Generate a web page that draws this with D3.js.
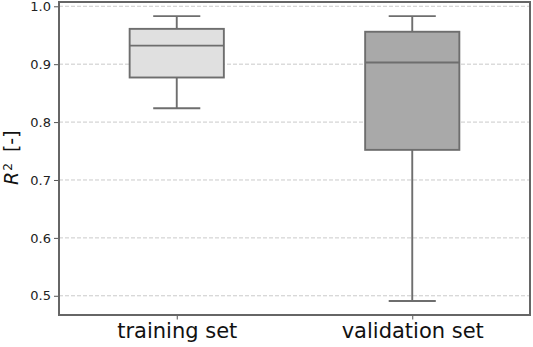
<!DOCTYPE html>
<html>
<head>
<meta charset="utf-8">
<script src="https://cdn.jsdelivr.net/npm/d3@7"></script>
<style>
  body { margin: 0; background: #fff; }
  svg { display: block; font-family: "DejaVu Sans", sans-serif; }
</style>
</head>
<body>
<svg id="chart" width="533" height="347"></svg>
<script>
// box plot stats
const categories = ["training set", "validation set"];
const whiskerLow = [0.824, 0.491];
const q1 = [0.877, 0.752];
const median = [0.932, 0.903];
const q3 = [0.961, 0.956];
const whiskerHigh = [0.983, 0.983];
const fills = ["#e0e0e0", "#a9a9a9"];
const yTicks = [0.5, 0.6, 0.7, 0.8, 0.9, 1.0];

const svg = d3.select("#chart");
const margin = {top: 2, right: 3, bottom: 32, left: 59};
const width = 533 - margin.left - margin.right;
const height = 347 - margin.top - margin.bottom;

const g = svg.append("g")
    .attr("transform", "translate(" + margin.left + "," + margin.top + ")");

// x: positions 1..n in [0.5, n+0.5], like matplotlib
const x = d3.scaleLinear().domain([0.5, categories.length + 0.5]).range([0, width]);
const y = d3.scaleLinear().domain([0.4668, 1.0074]).range([height, 0]);
const unit = x(2) - x(1);
const boxW = unit * 0.4;
const capW = unit * 0.2;

// grid
g.append("g")
    .selectAll("line")
    .data(yTicks)
    .enter()
    .append("line")
    .attr("x1", 0)
    .attr("x2", width)
    .attr("y1", d => y(d))
    .attr("y2", d => y(d))
    .attr("stroke", "#c4c4c4")
    .attr("stroke-width", 0.9)
    .attr("stroke-dasharray", "4,2");

const lineColor = "#6e6e6e";
const lw = 1.9;
const data = categories.map((c, i) => ({
    name: c, pos: i + 1, lo: whiskerLow[i], q1: q1[i], med: median[i], q3: q3[i], hi: whiskerHigh[i], fill: fills[i]
}));

const boxes = g.append("g")
    .selectAll("g")
    .data(data)
    .enter()
    .append("g");

// whiskers
boxes.append("line")
    .attr("x1", d => x(d.pos)).attr("x2", d => x(d.pos))
    .attr("y1", d => y(d.hi)).attr("y2", d => y(d.q3))
    .attr("stroke", lineColor).attr("stroke-width", lw);
boxes.append("line")
    .attr("x1", d => x(d.pos)).attr("x2", d => x(d.pos))
    .attr("y1", d => y(d.q1)).attr("y2", d => y(d.lo))
    .attr("stroke", lineColor).attr("stroke-width", lw);
// caps
boxes.append("line")
    .attr("x1", d => x(d.pos) - capW / 2).attr("x2", d => x(d.pos) + capW / 2)
    .attr("y1", d => y(d.hi)).attr("y2", d => y(d.hi))
    .attr("stroke", lineColor).attr("stroke-width", lw);
boxes.append("line")
    .attr("x1", d => x(d.pos) - capW / 2).attr("x2", d => x(d.pos) + capW / 2)
    .attr("y1", d => y(d.lo)).attr("y2", d => y(d.lo))
    .attr("stroke", lineColor).attr("stroke-width", lw);
// box
boxes.append("rect")
    .attr("x", d => x(d.pos) - boxW / 2)
    .attr("width", boxW)
    .attr("y", d => y(d.q3))
    .attr("height", d => y(d.q1) - y(d.q3))
    .attr("fill", d => d.fill)
    .attr("stroke", lineColor)
    .attr("stroke-width", lw);
// median
boxes.append("line")
    .attr("x1", d => x(d.pos) - boxW / 2).attr("x2", d => x(d.pos) + boxW / 2)
    .attr("y1", d => y(d.med)).attr("y2", d => y(d.med))
    .attr("stroke", lineColor).attr("stroke-width", lw);

// axes
const yAxis = g.append("g")
    .call(d3.axisLeft(y).tickValues(yTicks).tickFormat(d3.format(".1f")).tickSize(5).tickPadding(3));
yAxis.select(".domain").remove();
yAxis.selectAll("line").attr("stroke", "#555").attr("stroke-width", 1);
yAxis.selectAll("text").attr("font-size", 13).attr("fill", "#222").attr("font-family", "DejaVu Sans");

const xAxis = g.append("g")
    .attr("transform", "translate(0," + height + ")")
    .call(d3.axisBottom(x).tickValues([1, 2]).tickFormat(d => categories[d - 1]).tickSize(4.5).tickPadding(4));
xAxis.select(".domain").remove();
xAxis.selectAll("line").attr("stroke", "#555").attr("stroke-width", 1);
xAxis.selectAll("text").attr("font-size", 21).attr("fill", "#111").attr("font-family", "DejaVu Sans");

// frame
g.append("rect")
    .attr("width", width).attr("height", height)
    .attr("fill", "none").attr("stroke", "#666").attr("stroke-width", 2);

// y label
const yl = svg.append("text")
    .attr("transform", "translate(18,185) rotate(-90)")
    .attr("text-anchor", "start")
    .attr("font-size", 19)
    .attr("fill", "#111");
yl.append("tspan").attr("font-style", "italic").text("R");
yl.append("tspan").attr("font-size", 12).attr("dy", -6).attr("dx", 1).text("2");
yl.append("tspan").attr("dy", 6).attr("dx", 5).text(" [-]");
</script>
</body>
</html>
